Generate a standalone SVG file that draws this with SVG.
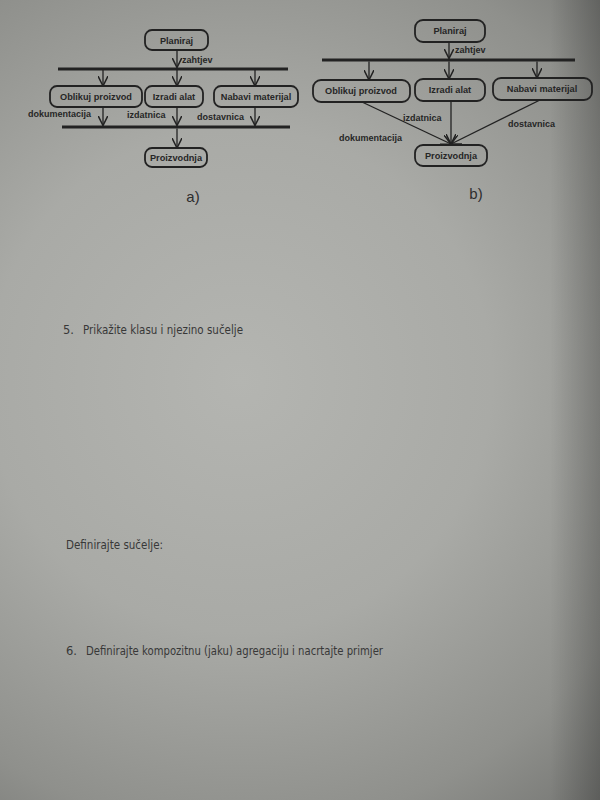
<svg xmlns="http://www.w3.org/2000/svg" width="600" height="800" viewBox="0 0 600 800">
<defs>
<radialGradient id="bg" cx="240" cy="380" r="560" gradientUnits="userSpaceOnUse">
<stop offset="0" stop-color="#b4b5b1"/>
<stop offset="0.45" stop-color="#a9aaa6"/>
<stop offset="0.8" stop-color="#8f908c"/>
<stop offset="1" stop-color="#757673"/>
</radialGradient>
<linearGradient id="edge" x1="550" y1="0" x2="600" y2="0" gradientUnits="userSpaceOnUse">
<stop offset="0" stop-color="#000" stop-opacity="0"/>
<stop offset="1" stop-color="#000" stop-opacity="0.22"/>
</linearGradient>
<marker id="arr" viewBox="0 0 10 10" refX="10" refY="5" markerWidth="10" markerHeight="10" markerUnits="userSpaceOnUse" orient="auto">
<path d="M0,0 L10,5 L0,10" fill="none" stroke="#222" stroke-width="1.5"/>
</marker>
<style>
.box{fill:none;stroke:#222;stroke-width:1.8}
.bt{font-family:"Liberation Sans",Arial,sans-serif;font-weight:bold;font-size:9.2px;fill:#262626;text-anchor:middle}
.lb{font-family:"Liberation Sans",Arial,sans-serif;font-weight:bold;font-size:9px;fill:#262626}
.ln{stroke:#222;stroke-width:1.3;fill:none;marker-end:url(#arr)}
.bar{fill:#222}
.cap{font-family:"Liberation Sans",Arial,sans-serif;font-size:15px;fill:#2e2e2e;text-anchor:middle}
.q{font-family:"DejaVu Sans",Verdana,sans-serif;font-size:11.5px;fill:#383838}
</style>
</defs>
<rect width="600" height="800" fill="url(#bg)"/>
<rect width="600" height="800" fill="url(#edge)"/>

<!-- Diagram a -->
<g id="a-nodes">
<g id="a-planiraj"><rect class="box" x="145" y="30" width="63" height="20" rx="7"/><text class="bt" x="176.5" y="43.5">Planiraj</text></g>
<g id="a-bar1"><rect class="bar" x="58" y="67.5" width="230" height="3"/></g>
<g id="a-oblikuj"><rect class="box" x="50" y="86" width="92" height="21" rx="7"/><text class="bt" x="96" y="100">Oblikuj proizvod</text></g>
<g id="a-izradi"><rect class="box" x="145" y="86" width="58" height="21" rx="7"/><text class="bt" x="174" y="100">Izradi alat</text></g>
<g id="a-nabavi"><rect class="box" x="214" y="86" width="84" height="21" rx="7"/><text class="bt" x="256" y="100">Nabavi materijal</text></g>
<g id="a-bar2"><rect class="bar" x="62" y="125.5" width="228" height="3"/></g>
<g id="a-proizvodnja"><rect class="box" x="145" y="148" width="62" height="19" rx="7"/><text class="bt" x="176" y="161">Proizvodnja</text></g>
</g>
<g id="a-connectors">
<line class="ln" x1="177" y1="50" x2="177" y2="67.5"/>
<line class="ln" x1="103" y1="70" x2="103" y2="86"/>
<line class="ln" x1="177" y1="70" x2="177" y2="86"/>
<line class="ln" x1="255" y1="70" x2="255" y2="86"/>
<line class="ln" x1="103" y1="107" x2="103" y2="125.5"/>
<line class="ln" x1="177" y1="107" x2="177" y2="125.5"/>
<line class="ln" x1="255" y1="107" x2="255" y2="125.5"/>
<line class="ln" x1="177" y1="128.5" x2="177" y2="148"/>
</g>
<g id="a-labels">
<text class="lb" x="182" y="63">zahtjev</text>
<text class="lb" x="28" y="117">dokumentacija</text>
<text class="lb" x="127" y="118">izdatnica</text>
<text class="lb" x="197" y="120">dostavnica</text>
<text class="cap" x="193" y="202">a)</text>
</g>

<!-- Diagram b -->
<g id="b-nodes">
<g id="b-planiraj"><rect class="box" x="415" y="20" width="70" height="22" rx="8"/><text class="bt" x="450" y="34">Planiraj</text></g>
<g id="b-bar"><rect class="bar" x="322" y="58.5" width="253" height="3"/></g>
<g id="b-oblikuj"><rect class="box" x="313" y="80" width="97" height="22" rx="8"/><text class="bt" x="361" y="94">Oblikuj proizvod</text></g>
<g id="b-izradi"><rect class="box" x="415" y="79" width="70" height="22" rx="8"/><text class="bt" x="450" y="93">Izradi alat</text></g>
<g id="b-nabavi"><rect class="box" x="493" y="78" width="99" height="22" rx="8"/><text class="bt" x="542" y="92">Nabavi materijal</text></g>
<g id="b-proizvodnja"><rect class="box" x="415" y="145" width="72" height="21" rx="8"/><text class="bt" x="451" y="159">Proizvodnja</text></g>
</g>
<g id="b-connectors">
<line class="ln" x1="449" y1="42" x2="449" y2="58.5"/>
<line class="ln" x1="369" y1="61.5" x2="369" y2="80"/>
<line class="ln" x1="449" y1="61.5" x2="449" y2="79"/>
<line class="ln" x1="537" y1="61.5" x2="537" y2="78"/>
<line class="ln" x1="362" y1="102" x2="451" y2="144"/>
<line class="ln" x1="451" y1="101" x2="451" y2="144"/>
<line class="ln" x1="540" y1="100" x2="451" y2="144"/>
</g>
<g id="b-labels">
<text class="lb" x="455" y="53">zahtjev</text>
<text class="lb" x="403" y="121">izdatnica</text>
<text class="lb" x="339" y="141">dokumentacija</text>
<text class="lb" x="508" y="127">dostavnica</text>
<text class="cap" x="476" y="199">b)</text>
</g>

<!-- Questions -->
<g id="questions">
<text class="q" x="63" y="334">5.</text>
<text class="q" x="83" y="334" textLength="160" lengthAdjust="spacingAndGlyphs">Prikažite klasu i njezino sučelje</text>
<text class="q" x="66" y="549" textLength="97" lengthAdjust="spacingAndGlyphs">Definirajte sučelje:</text>
<text class="q" x="66" y="655">6.</text>
<text class="q" x="86" y="655" textLength="297" lengthAdjust="spacingAndGlyphs">Definirajte kompozitnu (jaku) agregaciju i nacrtajte primjer</text>
</g>
</svg>
